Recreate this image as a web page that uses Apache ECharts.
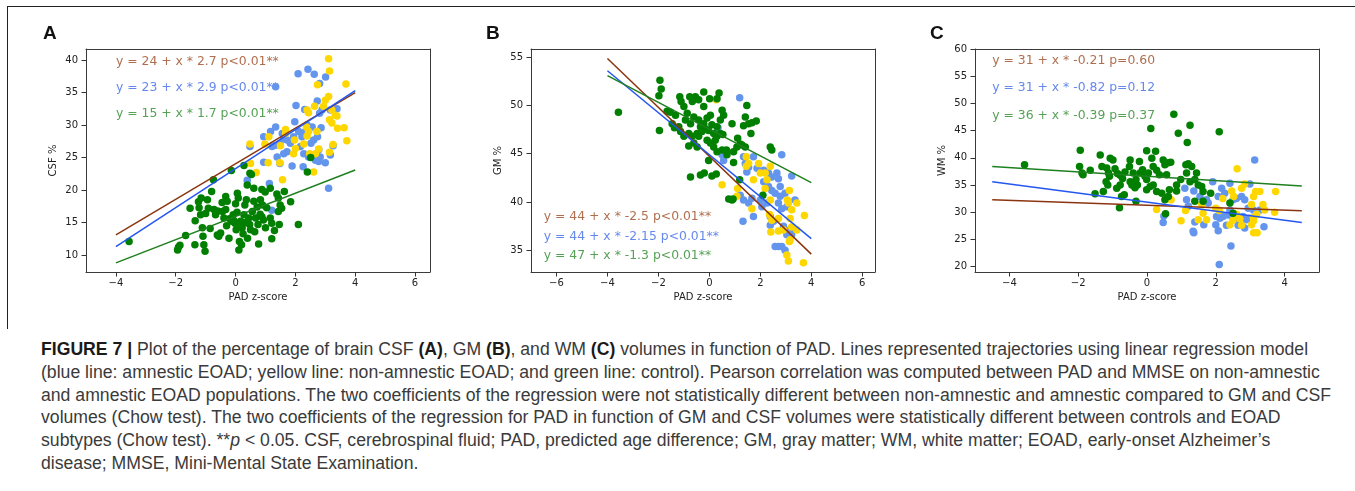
<!DOCTYPE html>
<html>
<head>
<meta charset="utf-8">
<script src="https://cdn.jsdelivr.net/npm/echarts@6/dist/echarts.min.js"></script>
<style>
html, body { margin: 0; padding: 0; background: #fff; }
#frame { position: absolute; left: 7px; top: 6px; width: 1348px; height: 322px; border-top: 1px solid #222; border-left: 1px solid #222; }
#main { position: absolute; left: 0; top: 0; width: 1355px; height: 330px; }
#caption { position: absolute; left: 41px; top: 338px; font-family: "Liberation Sans", Arial, sans-serif; font-size: 17.5px; line-height: 22.8px; color: #3a3a3a; white-space: nowrap; transform-origin: 0 0; }
#caption b { color: #1a1a1a; }
</style>
</head>
<body>
<div id="frame"></div>
<div id="main"></div>
<div id="caption">
  <div><span><b>FIGURE 7 |</b> Plot of the percentage of brain CSF <b>(A)</b>, GM <b>(B)</b>, and WM <b>(C)</b> volumes in function of PAD. Lines represented trajectories using linear regression model</span></div>
  <div><span>(blue line: amnestic EOAD; yellow line: non-amnestic EOAD; and green line: control). Pearson correlation was computed between PAD and MMSE on non-amnestic</span></div>
  <div><span>and amnestic EOAD populations. The two coefficients of the regression were not statistically different between non-amnestic and amnestic compared to GM and CSF</span></div>
  <div><span>volumes (Chow test). The two coefficients of the regression for PAD in function of GM and CSF volumes were statistically different between controls and EOAD</span></div>
  <div><span>subtypes (Chow test). **<i>p</i> &lt; 0.05. CSF, cerebrospinal fluid; PAD, predicted age difference; GM, gray matter; WM, white matter; EOAD, early-onset Alzheimer’s</span></div>
  <div><span>disease; MMSE, Mini-Mental State Examination.</span></div>
</div>
<script>
// ---- data ----
var panelLetters = ['A', 'B', 'C'];
var yNames = ['CSF %', 'GM %', 'WM %'];
var xName = 'PAD z-score';

var xTicksA = [-4, -2, 0, 2, 4, 6];
var xTicksB = [-6, -4, -2, 0, 2, 4, 6];
var xTicksC = [-4, -2, 0, 2, 4];
var yTicksA = [10, 15, 20, 25, 30, 35, 40];
var yTicksB = [35, 40, 45, 50, 55];
var yTicksC = [20, 25, 30, 35, 40, 45, 50, 55, 60];

// CSF (A)
var csfControl = [[-3.56,12.1],[-1.94,10.8],[-1.91,11.2],[-1.86,11.5],[-1.67,13.0],[-1.52,17.2],[-1.36,11.6],[-1.24,18.2],[-1.22,17.3],[-1.17,16.2],[-1.11,14.2],[-1.09,12.9],[-1.06,11.6],[-1.02,10.6],[-0.94,18.5],[-0.91,17.2],[-0.8,19.8],[-0.74,21.6],[-0.72,17.0],[-0.67,16.2],[-0.61,13.1],[-0.56,12.9],[-0.5,13.4],[-0.44,16.7],[-0.39,15.7],[-0.33,17.0],[-0.33,19.0],[-0.28,18.3],[-0.22,12.6],[-0.13,15.2],[-0.14,23.0],[-0.08,16.2],[-0.02,14.9],[0.02,13.9],[0.06,19.5],[0.09,18.8],[0.11,10.8],[0.13,12.1],[0.17,15.2],[0.22,14.2],[0.28,16.2],[0.31,17.7],[0.36,18.5],[0.44,15.7],[0.47,14.7],[0.5,13.9],[0.39,20.8],[0.53,22.4],[0.56,16.7],[0.61,18.3],[0.67,15.7],[0.48,22.6],[0.28,23.8],[0.88,20.1],[0.99,19.7],[1.16,20.3],[0.9,17.7],[1.04,17.3],[0.82,16.3],[1.38,19.4],[1.43,18.8],[1.63,19.8],[1.49,17.7],[1.54,17.2],[1.43,16.7],[1.84,18.2],[0.88,15.9],[0.93,15.4],[1.16,15.7],[1.21,14.9],[1.46,14.7],[0.77,11.7],[1.21,12.5],[2.1,14.7],[2.51,25.0],[2.4,22.8],[0.61,20.3],[0.72,17.4],[0.83,18.5],[-0.3,14.5],[-0.2,15.6],[-0.05,15.3],[0.05,16.6],[0.1,14.6],[0.25,13.3],[0.35,15.0],[-0.6,16.8],[-0.45,18.1],[0.0,17.9],[0.4,12.6],[0.2,11.6],[-0.85,14.1],[-1.35,15.3],[-1.0,16.4],[-1.15,18.8],[0.64,13.6],[0.75,14.7],[1.0,14.2],[1.3,13.8]];
var csfAmnestic = [[2.09,37.9],[2.42,38.6],[2.63,37.8],[3.01,37.4],[2.81,36.4],[1.34,35.9],[2.02,33.0],[2.73,33.7],[2.31,32.4],[3.39,32.5],[2.81,31.8],[2.89,32.3],[1.34,29.7],[1.98,30.5],[1.17,29.0],[0.94,28.2],[1.56,28.7],[1.61,27.9],[1.72,27.7],[1.48,27.2],[1.22,26.7],[1.33,26.9],[0.48,26.7],[2.11,29.0],[2.22,28.2],[2.33,29.0],[2.39,30.0],[2.56,29.7],[2.52,27.2],[2.61,27.7],[2.74,28.2],[2.86,29.6],[1.61,25.6],[1.72,25.9],[1.39,25.1],[1.48,24.1],[1.89,23.7],[2.26,23.6],[2.44,25.1],[2.78,24.4],[2.83,25.1],[2.67,24.6],[3.0,24.2],[3.26,26.8],[0.39,21.5],[1.13,21.0],[3.11,20.3],[1.21,16.9],[0.94,24.3],[1.94,28.2],[1.83,27.2],[2.17,26.7],[2.28,25.6],[3.17,25.4],[2.78,26.2],[3.17,32.3]];
var csfNonAmnestic = [[3.11,40.2],[3.14,38.3],[2.74,36.2],[3.69,36.3],[3.11,34.4],[3.0,33.8],[2.94,32.9],[2.64,32.9],[2.44,31.9],[2.39,32.3],[3.22,32.3],[3.33,31.5],[3.39,31.4],[3.14,30.8],[3.22,30.3],[3.41,29.5],[3.63,29.6],[3.72,27.6],[2.37,29.7],[2.44,29.0],[2.39,28.3],[2.72,29.0],[1.67,29.3],[1.67,28.7],[1.97,27.7],[2.28,27.1],[2.0,26.4],[1.94,25.6],[2.48,25.6],[2.67,25.6],[2.78,26.3],[3.26,27.0],[3.14,25.8],[2.61,22.8],[1.11,28.2],[0.98,27.1],[0.48,27.1],[0.5,24.1],[1.09,24.2],[1.48,24.2],[0.69,22.7],[1.57,21.6],[1.5,26.8]];
var csfFitAll = [[-4, 13.1], [4, 35.0]];
var csfFitAmnestic = [[-4, 11.3], [4, 35.3]];
var csfFitControl = [[-4, 8.8], [4, 23.1]];
var csfNotes = ['y = 24 + x * 2.7 p<0.01**', 'y = 23 + x * 2.9 p<0.01**', 'y = 15 + x * 1.7 p<0.01**'];
var csfNoteAt = [[-4, 39.7], [-4, 35.7], [-4, 31.7]];

// GM (B)
var gmControl = [[-3.57,49.3],[-1.94,52.6],[-1.89,51.7],[-1.98,51.0],[-1.96,47.4],[-1.16,50.9],[-1.11,50.4],[-1.0,49.9],[-0.77,50.9],[-0.55,50.9],[-0.67,50.4],[-0.42,50.6],[-0.22,51.4],[0.01,50.7],[0.3,50.7],[0.38,51.3],[-0.22,49.9],[-1.66,49.4],[-1.53,49.3],[-1.33,49.0],[-1.46,48.1],[-1.37,47.7],[-1.2,47.8],[-1.13,47.3],[-0.87,49.2],[-0.94,48.5],[-0.74,48.1],[-0.61,48.8],[-0.42,48.5],[-0.35,47.8],[-0.22,48.1],[-0.09,48.7],[0.04,49.0],[-0.48,47.1],[-0.42,46.8],[-0.29,47.3],[-0.16,47.6],[-0.03,47.4],[0.1,48.0],[0.17,47.1],[0.3,47.8],[0.43,48.5],[0.5,49.5],[0.56,49.0],[-1.0,46.8],[-0.81,47.1],[-0.68,46.8],[-0.61,46.1],[-0.48,45.7],[-0.81,45.8],[-0.09,46.4],[0.04,46.1],[0.23,46.4],[0.3,46.8],[0.43,47.1],[0.53,47.0],[0.17,45.7],[0.3,45.2],[0.5,45.4],[0.89,48.1],[1.11,46.6],[1.21,46.0],[1.41,48.8],[1.34,47.9],[1.54,48.1],[1.67,48.2],[1.84,48.4],[1.63,47.1],[1.47,50.0],[1.41,45.7],[1.28,45.9],[1.08,45.7],[0.95,45.2],[2.39,45.7],[2.45,45.4],[-0.74,42.6],[-0.35,42.8],[-0.2,43.0],[0.1,42.7],[0.27,42.9],[-0.03,44.3],[0.69,44.9],[0.95,44.1],[0.67,45.4],[0.76,40.3],[0.89,40.2],[0.93,40.3],[1.19,42.3],[2.1,40.7]];
var gmAmnestic = [[1.19,50.8],[2.84,44.9],[3.23,42.7],[0.5,44.9],[0.56,44.3],[0.34,47.7],[1.34,44.7],[1.41,44.0],[1.47,43.1],[1.54,43.6],[1.73,44.7],[1.87,43.5],[2.13,43.3],[2.32,43.0],[2.45,42.6],[2.65,43.0],[2.71,42.4],[2.78,41.6],[2.13,42.1],[2.32,41.6],[2.45,41.2],[2.58,40.9],[2.78,40.6],[2.97,40.9],[1.21,40.7],[1.34,40.2],[1.54,39.9],[1.67,40.4],[2.0,40.2],[2.06,39.5],[2.26,39.9],[2.39,38.5],[2.52,38.0],[2.71,39.9],[2.84,39.3],[3.04,39.5],[2.91,37.5],[3.04,36.6],[3.17,37.1],[3.36,40.2],[1.32,38.0],[1.73,38.5],[2.39,37.6],[2.58,35.4],[2.71,35.4],[2.84,35.4],[2.97,35.0],[3.23,36.6]];
var gmNonAmnestic = [[0.5,41.8],[1.08,40.6],[1.11,41.4],[0.69,45.2],[1.45,44.7],[1.54,44.0],[1.45,43.7],[1.93,44.0],[2.0,43.0],[1.73,42.3],[2.19,43.0],[2.26,42.3],[2.39,43.7],[2.19,41.4],[2.39,40.2],[3.14,41.2],[3.06,40.2],[3.1,39.9],[3.43,39.9],[3.23,39.2],[3.73,38.6],[1.67,39.3],[2.36,38.7],[2.45,38.1],[2.71,38.3],[3.17,38.3],[3.23,37.4],[2.41,36.9],[2.71,37.0],[2.91,37.1],[3.17,36.1],[3.14,35.9],[3.43,37.1],[3.04,34.5],[3.1,33.9],[3.69,33.7],[0.26,50.6]];
var gmFitAll = [[-4, 54.87], [4, 34.6]];
var gmFitAmnestic = [[-4, 53.6], [4, 36.2]];
var gmFitControl = [[-4, 53.1], [4, 42.0]];
var gmNotes = ['y = 44 + x * -2.5 p<0.01**', 'y = 44 + x * -2.15 p<0.01**', 'y = 47 + x * -1.3 p<0.01**'];
var gmNoteAt = [[-6.5, 38.44], [-6.5, 36.45], [-6.5, 34.45]];

// WM (C)
var wmControl = [[-3.56,38.7],[-1.94,41.4],[-1.96,38.4],[-1.89,37.2],[-1.86,36.9],[-1.65,37.7],[-1.51,33.4],[-1.36,40.5],[-1.31,38.4],[-1.17,38.1],[-1.12,37.2],[-1.09,36.6],[-1.27,33.8],[-1.19,35.6],[-1.14,35.0],[-1.07,39.9],[-0.99,39.6],[-0.93,38.0],[-0.86,37.1],[-0.78,36.8],[-0.71,36.2],[-0.64,37.4],[-0.74,32.9],[-0.66,33.2],[-0.8,30.8],[-0.78,35.0],[-0.88,34.4],[-0.49,39.6],[-0.51,38.4],[-0.4,37.2],[-0.32,36.0],[-0.28,35.0],[-0.49,35.6],[-0.44,35.0],[-0.35,34.5],[-0.32,32.0],[-0.22,39.3],[-0.2,37.2],[-0.13,37.8],[-0.06,36.6],[-0.01,36.0],[0.04,37.2],[-0.01,41.3],[0.11,45.4],[0.14,39.9],[0.25,41.2],[0.18,38.4],[0.28,37.7],[0.36,36.9],[-0.01,34.1],[0.09,34.7],[0.18,35.0],[0.28,33.8],[0.43,33.5],[0.47,39.6],[0.52,38.7],[0.57,36.9],[0.62,39.1],[0.69,39.2],[0.52,32.3],[0.54,29.7],[0.65,34.1],[0.62,32.9],[0.78,48.0],[0.86,35.0],[0.86,33.9],[0.91,44.5],[0.98,36.0],[1.15,37.2],[1.13,38.7],[1.2,38.9],[1.17,42.8],[1.25,46.0],[1.25,35.6],[1.3,38.4],[1.39,36.0],[1.44,37.2],[1.39,32.0],[1.49,35.0],[1.59,34.7],[1.63,33.8],[1.63,32.0],[1.85,33.5],[2.1,44.8],[2.41,31.7],[2.5,29.8]];
var wmAmnestic = [[3.13,39.6],[1.91,35.6],[2.07,32.9],[2.17,34.4],[2.26,33.5],[2.41,35.3],[2.5,32.3],[2.6,32.5],[2.75,32.9],[2.84,32.3],[2.99,35.2],[2.02,29.2],[2.12,28.9],[2.21,29.2],[2.36,29.5],[2.5,28.9],[2.65,28.6],[2.79,29.2],[2.89,28.6],[2.99,28.9],[3.09,30.4],[3.28,30.4],[3.4,27.3],[2.0,27.7],[2.07,26.6],[2.31,27.6],[2.65,27.6],[2.84,27.1],[1.34,26.5],[1.36,26.2],[1.39,28.2],[1.65,27.7],[2.44,23.8],[2.1,20.4],[0.47,28.1],[0.49,29.3],[1.15,32.3],[1.2,31.1],[1.36,33.9],[1.54,32.9],[1.73,32.3],[1.78,31.7],[1.1,34.4],[2.94,30.7],[2.41,30.4]];
var wmNonAmnestic = [[2.62,38.0],[0.28,30.5],[0.7,32.3],[0.99,28.4],[1.12,30.3],[1.49,28.6],[1.73,28.6],[1.59,31.4],[1.63,29.8],[2.0,30.7],[2.1,30.3],[2.2,32.5],[2.46,33.9],[2.52,32.9],[2.75,34.4],[2.84,35.2],[2.6,29.6],[2.7,28.8],[2.41,27.7],[2.5,28.5],[2.75,27.6],[3.04,27.7],[3.1,28.4],[3.1,26.2],[3.2,26.2],[3.09,29.0],[3.19,29.6],[3.04,31.4],[3.16,33.8],[3.28,33.8],[3.1,32.9],[3.37,31.4],[3.42,30.4],[3.74,33.8],[3.71,30.0]];
var wmFitAll = [[-4.5, 32.27], [4.5, 30.26]];
var wmFitAmnestic = [[-4.5, 35.6], [4.5, 28.1]];
var wmFitControl = [[-4.5, 38.4], [4.5, 34.8]];
var wmNotes = ['y = 31 + x * -0.21 p=0.60', 'y = 31 + x * -0.82 p=0.12', 'y = 36 + x * -0.39 p=0.37'];
var wmNoteAt = [[-4.5, 57.8], [-4.5, 52.8], [-4.5, 47.8]];

// ---- styling / layout ----
var dotBlue = '#6495ED', dotGold = '#FFD700', dotGreen = '#007F00';
var lineCols = ['#8B3510', '#2457F0', '#1E801E'];
var textCols = ['#9C4A22', '#3F6AE6', '#2A8A2A'];
var tickFont = 'DejaVu Sans';
var spine = '#3a3a3a';

var panels = [
  { left: 86, xr: [-5, 6.5], yr: [7.4, 41.7], xt: xTicksA, yt: yTicksA,
    dots: [csfAmnestic, csfNonAmnestic, csfControl], fits: [csfFitAll, csfFitAmnestic, csfFitControl],
    notes: csfNotes, noteAt: csfNoteAt },
  { left: 531, xr: [-7, 6.5], yr: [32.75, 55.85], xt: xTicksB, yt: yTicksB,
    dots: [gmAmnestic, gmNonAmnestic, gmControl], fits: [gmFitAll, gmFitAmnestic, gmFitControl],
    notes: gmNotes, noteAt: gmNoteAt },
  { left: 975, xr: [-5, 5], yr: [19, 60], xt: xTicksC, yt: yTicksC,
    dots: [wmAmnestic, wmNonAmnestic, wmControl], fits: [wmFitAll, wmFitAmnestic, wmFitControl],
    notes: wmNotes, noteAt: wmNoteAt }
];

function minus(v) { return String(v).replace('-', '\u2212'); }

// main axis with labels/ticks, or a bare spine for the opposite side of the box
function axis(kind, i, range, ticks, name, pos) {
  var main = pos === 'bottom' || pos === 'left';
  return {
    type: 'value', gridIndex: i, position: pos, min: range[0], max: range[1],
    name: main ? name : '', nameLocation: 'middle', nameGap: kind === 'x' ? 20 : 28,
    nameTextStyle: { color: '#222', fontFamily: tickFont, fontSize: 10 },
    axisLine: { show: true, onZero: false, lineStyle: { color: spine, width: 1 } },
    splitLine: { show: false },
    axisTick: { show: main, customValues: ticks, length: 4.5, lineStyle: { color: '#333', width: 1 } },
    axisLabel: { show: main, customValues: ticks, margin: kind === 'x' ? 6 : 8,
      color: '#222', fontFamily: tickFont, fontSize: 10, formatter: minus }
  };
}

var grids = [], xAxes = [], yAxes = [], series = [], graphics = [];
panels.forEach(function (p, i) {
  grids.push({ left: p.left, top: 49, width: 344, height: 223, show: false, outerBoundsMode: 'none' });
  xAxes.push(axis('x', i, p.xr, p.xt, xName, 'bottom'));
  xAxes.push(axis('x', i, p.xr, p.xt, xName, 'top'));
  yAxes.push(axis('y', i, p.yr, p.yt, yNames[i], 'left'));
  yAxes.push(axis('y', i, p.yr, p.yt, yNames[i], 'right'));
  var xi = 2 * i, yi = 2 * i;

  // equation texts
  p.notes.forEach(function (t, k) {
    series.push({
      type: 'scatter', xAxisIndex: xi, yAxisIndex: yi, silent: true, z: 1,
      symbolSize: 0, data: [p.noteAt[k]],
      label: { show: true, position: 'right', distance: 0, formatter: t,
        color: textCols[k], fontFamily: 'DejaVu Sans', fontSize: 12.4 }
    });
  });
  // points: amnestic (blue), non-amnestic (yellow), control (green)
  [dotBlue, dotGold, dotGreen].forEach(function (c, k) {
    series.push({
      type: 'scatter', xAxisIndex: xi, yAxisIndex: yi, silent: true, z: 2,
      symbolSize: 7.5, itemStyle: { color: c, opacity: 1 }, data: p.dots[k]
    });
  });
  // regression lines
  p.fits.forEach(function (f, k) {
    series.push({
      type: 'line', xAxisIndex: xi, yAxisIndex: yi, silent: true, z: 3,
      showSymbol: false, symbol: 'none', data: f,
      lineStyle: { color: lineCols[k], width: 1.5 }
    });
  });
  graphics.push({
    type: 'text', left: [43, 486, 930][i], top: 24,
    style: { text: panelLetters[i], font: 'bold 19px "Liberation Sans", Arial, sans-serif', fill: '#111' }
  });
});

var chart = echarts.init(document.getElementById('main'), null, { renderer: 'canvas' });
chart.setOption({
  animation: false,
  backgroundColor: 'transparent',
  grid: grids,
  xAxis: xAxes,
  yAxis: yAxes,
  series: series,
  graphic: graphics
});

// squeeze caption to the width of the original typesetting
var cap = document.getElementById('caption');
var ref = cap.children[2].children[0].getBoundingClientRect().width;
cap.style.transform = 'scaleX(' + (1290 / ref) + ')';
</script>
</body>
</html>
